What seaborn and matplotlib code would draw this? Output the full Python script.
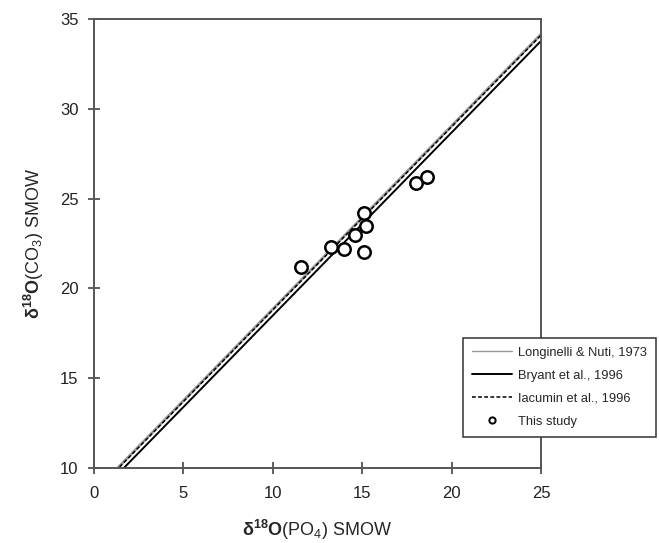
import numpy as np
import pandas as pd
import matplotlib
matplotlib.use("Agg")
import matplotlib.pyplot as plt
import seaborn as sns
from matplotlib.lines import Line2D

# Data
study_po4 = [11.6, 13.25, 14.0, 14.6, 15.1, 15.1, 15.2, 18.0, 18.6]
study_co3 = [21.2, 22.3, 22.2, 23.0, 22.05, 24.2, 23.5, 25.85, 26.2]

line_x = [0.0, 25.0]
longinelli_slope, longinelli_icept = 1.02, 8.65
bryant_slope, bryant_icept = 1.019, 8.3
iacumin_slope, iacumin_icept = 1.02, 8.6

x_ticks = [0, 5, 10, 15, 20, 25]
y_ticks = [10, 15, 20, 25, 30, 35]

sns.set_style("ticks")
plt.rcParams['font.family'] = ['Liberation Sans', 'DejaVu Sans']
plt.rcParams['mathtext.fontset'] = 'custom'
plt.rcParams['mathtext.rm'] = 'Liberation Sans'
plt.rcParams['mathtext.it'] = 'Liberation Sans:italic'
plt.rcParams['mathtext.bf'] = 'Liberation Sans:bold'

fig = plt.figure(figsize=(6.59, 5.43), dpi=100)
ax = fig.add_axes([94/659, 1 - 468/543, (541-94)/659, (468-19)/543])

def line_df(slope, icept):
    xs = np.array(line_x)
    return pd.DataFrame({"x": xs, "y": slope * xs + icept})

sns.lineplot(data=line_df(longinelli_slope, longinelli_icept), x="x", y="y", ax=ax,
             color="#999999", lw=2.0, label="Longinelli & Nuti, 1973")
sns.lineplot(data=line_df(bryant_slope, bryant_icept), x="x", y="y", ax=ax,
             color="black", lw=1.4, label="Bryant et al., 1996")
sns.lineplot(data=line_df(iacumin_slope, iacumin_icept), x="x", y="y", ax=ax,
             color="black", lw=1.1, linestyle=(0, (2.5, 1.5)), label="Iacumin et al., 1996")
sns.scatterplot(x=study_po4, y=study_co3, ax=ax, s=80, facecolor="white",
                edgecolor="black", linewidth=1.8, label="This study", zorder=5)

ax.set_xlim(0, 25)
ax.set_ylim(10, 35)
ax.set_xticks(x_ticks)
ax.set_yticks(y_ticks)
ax.tick_params(direction="inout", length=8, width=1.2, colors="#444444",
               labelsize=12, labelcolor="#222222")
ax.tick_params(axis="x", pad=9)
ax.tick_params(axis="y", pad=7)
for s in ax.spines.values():
    s.set_visible(True)
    s.set_color("#555555")
    s.set_linewidth(1.4)

ax.set_xlabel(r"$\mathbf{\delta^{18}O}$(PO$_4$) SMOW", fontsize=13, labelpad=12)
ax.set_ylabel(r"$\mathbf{\delta^{18}O}$(CO$_3$) SMOW", fontsize=13, labelpad=10)

handles, labels = ax.get_legend_handles_labels()
handles[0] = Line2D([], [], color="#999999", lw=1.0)
handles[-1] = Line2D([], [], marker="o", linestyle="none", markersize=4.5,
                     markerfacecolor="white", markeredgecolor="black", markeredgewidth=1.4)
leg = ax.legend(handles, labels, loc="lower left",
                bbox_to_anchor=(463/659, 1 - 437/543), bbox_transform=fig.transFigure,
                borderaxespad=0, fancybox=False, framealpha=1, edgecolor="#333333",
                fontsize=9.3, handlelength=3.1, labelspacing=0.85, borderpad=0.7,
                handletextpad=0.45)
leg.get_frame().set_linewidth(1.1)
leg.set_zorder(10)

fig.savefig("out.png", dpi=100)
